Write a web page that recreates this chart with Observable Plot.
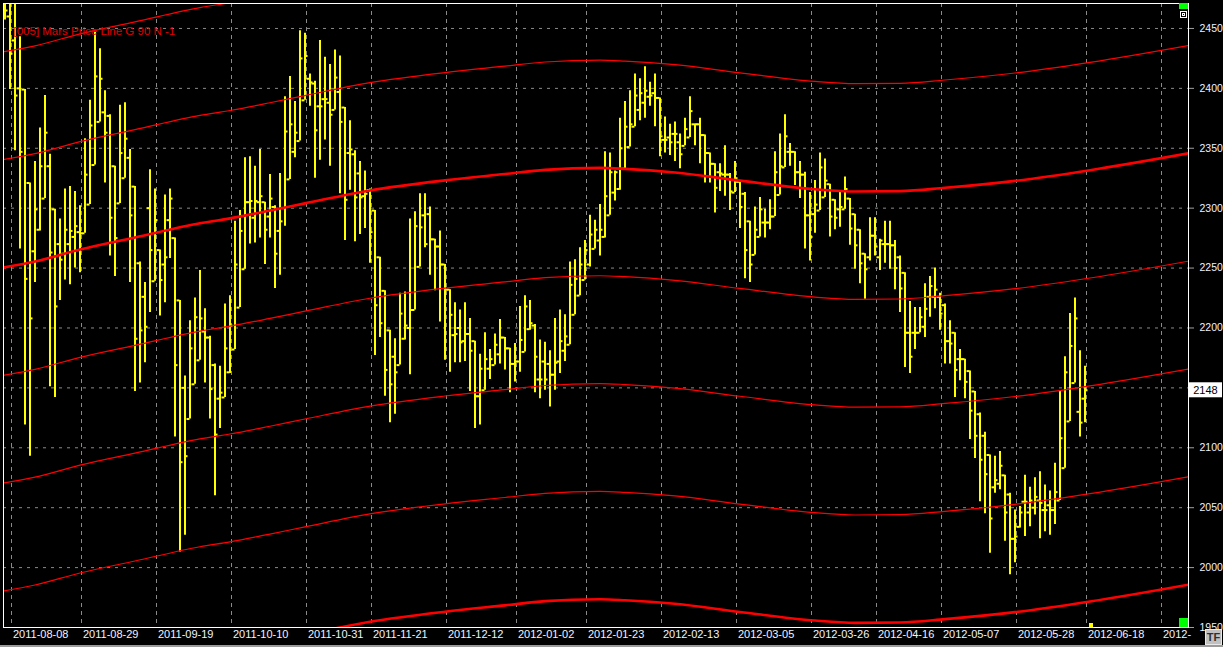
<!DOCTYPE html>
<html>
<head>
<meta charset="utf-8">
<script src="https://cdn.jsdelivr.net/npm/d3@7"></script>
<script src="https://cdn.jsdelivr.net/npm/@observablehq/plot@0.6"></script>
<style>
  html, body { margin: 0; padding: 0; background: #000; overflow: hidden; }
  #chart svg { display: block; }
</style>
</head>
<body>
<div id="chart"></div>
<script>
// ---- Data ----
const title = "[005] Mars Price Line G 90 N -1";

const open = [
2470,2460,2440,2400,2399,2321,2264,2282,2308,2335,
2299,2270,2262,2270,2276,2280,2279,2303,2336,2372,
2380,2377,2335,2304,2325,2342,2318,2254,2226,2300,
2239,2265,2253,2290,2275,2223,2150,2124,2153,2173,
2197,2192,2169,2141,2142,2163,2182,2217,2249,2305,
2292,2305,2305,2293,2301,2281,2300,2324,2347,2356,
2390,2408,2404,2385,2391,2388,2382,2397,2384,2346,
2345,2329,2310,2315,2298,2259,2231,2198,2176,2169,
2191,2200,2215,2251,2294,2295,2274,2268,2253,2232,
2194,2200,2189,2195,2189,2143,2148,2166,2169,2178,
2192,2183,2170,2172,2180,2199,2202,2157,2172,2170,
2161,2172,2181,2186,2211,2227,2240,2253,2266,2273,
2276,2294,2313,2316,2333,2351,2368,2382,2388,2393,
2396,2392,2357,2359,2362,2355,2352,2359,2370,2370,
2361,2346,2337,2330,2328,2328,2313,2322,2312,2289,
2261,2276,2288,2288,2293,2311,2334,2347,2347,2330,
2328,2294,2295,2298,2309,2320,2307,2299,2299,2308,
2295,2282,2262,2259,2277,2259,2270,2270,2269,2259,
2246,2196,2196,2196,2201,2226,2226,2226,2219,2189,
2196,2174,2174,2164,2147,2128,2110,2094,2067,2070,
2077,2061,2024,2034,2055,2046,2050,2056,2048,2052,
2048,2056,2083,2122,2154,2130,2141];

const high = [
2480,2480,2480,2443,2399,2321,2339,2367,2394,2345,
2299,2291,2316,2318,2314,2302,2358,2390,2447,2433,
2398,2378,2335,2386,2388,2349,2318,2255,2238,2332,
2316,2265,2311,2316,2275,2223,2160,2206,2225,2248,
2216,2193,2170,2168,2220,2227,2289,2298,2342,2343,
2335,2349,2305,2328,2302,2329,2393,2410,2389,2448,
2446,2412,2406,2440,2426,2420,2432,2427,2384,2373,
2348,2339,2331,2316,2298,2259,2231,2198,2191,2229,
2230,2291,2297,2312,2312,2301,2274,2281,2253,2232,
2221,2215,2221,2208,2189,2178,2196,2182,2195,2207,
2192,2183,2187,2218,2227,2223,2203,2190,2188,2181,
2208,2215,2211,2255,2257,2267,2273,2294,2290,2303,
2347,2346,2331,2375,2389,2398,2412,2408,2418,2405,
2412,2392,2376,2370,2372,2362,2375,2393,2370,2375,
2361,2346,2337,2337,2352,2329,2339,2323,2313,2289,
2301,2309,2299,2307,2347,2362,2378,2354,2347,2339,
2330,2313,2323,2346,2341,2320,2307,2314,2326,2308,
2295,2282,2262,2292,2292,2274,2289,2289,2273,2260,
2246,2222,2217,2217,2237,2243,2250,2229,2220,2206,
2196,2182,2174,2164,2147,2129,2113,2094,2093,2097,
2077,2062,2048,2051,2077,2067,2075,2080,2069,2064,
2087,2147,2176,2212,2225,2181,2168];

const low = [
2457,2399,2348,2266,2119,2093,2238,2281,2308,2151,
2142,2223,2240,2236,2250,2246,2279,2303,2336,2372,
2321,2260,2243,2304,2325,2238,2147,2154,2171,2213,
2239,2210,2221,2258,2109,2013,2027,2124,2153,2173,
2154,2124,2060,2116,2142,2162,2182,2217,2249,2270,
2271,2275,2253,2275,2233,2244,2285,2324,2342,2356,
2390,2385,2325,2340,2357,2335,2382,2312,2273,2315,
2272,2278,2283,2254,2177,2192,2143,2121,2128,2169,
2190,2161,2215,2251,2267,2244,2231,2205,2173,2163,
2171,2171,2172,2147,2116,2119,2148,2157,2169,2170,
2165,2146,2155,2163,2180,2198,2146,2141,2148,2134,
2148,2162,2172,2186,2211,2227,2240,2251,2266,2260,
2275,2294,2306,2315,2333,2351,2368,2373,2375,2385,
2368,2343,2346,2344,2339,2333,2352,2359,2352,2337,
2321,2321,2296,2314,2310,2298,2313,2283,2241,2238,
2261,2276,2275,2282,2293,2311,2334,2335,2319,2308,
2266,2256,2279,2298,2309,2276,2282,2284,2299,2269,
2249,2237,2224,2256,2260,2248,2254,2249,2232,2213,
2167,2162,2182,2196,2192,2209,2216,2198,2170,2170,
2142,2156,2141,2107,2091,2055,2045,2012,2062,2065,
2022,1994,2004,2033,2026,2034,2044,2024,2030,2027,
2036,2056,2083,2122,2154,2109,2121];

const close = [
2465,2429,2394,2347,2241,2208,2299,2335,2363,2263,
2218,2257,2282,2281,2285,2279,2328,2369,2410,2408,
2363,2292,2275,2346,2358,2294,2191,2198,2201,2265,
2290,2240,2259,2308,2169,2088,2093,2183,2209,2208,
2192,2149,2111,2146,2183,2202,2253,2281,2305,2306,
2306,2310,2282,2308,2262,2289,2364,2370,2363,2425,
2427,2405,2365,2385,2391,2378,2409,2372,2307,2349,
2309,2309,2312,2280,2219,2204,2165,2153,2163,2212,
2202,2215,2285,2284,2270,2274,2268,2253,2232,2211,
2195,2188,2195,2181,2143,2166,2174,2174,2186,2192,
2183,2170,2172,2190,2218,2204,2176,2157,2157,2161,
2171,2189,2193,2236,2241,2253,2265,2278,2282,2282,
2310,2330,2330,2350,2368,2370,2394,2396,2398,2394,
2392,2360,2357,2355,2362,2345,2366,2381,2370,2361,
2346,2337,2317,2329,2328,2314,2325,2301,2265,2253,
2282,2299,2288,2293,2330,2335,2360,2347,2330,2328,
2294,2276,2303,2334,2323,2293,2292,2301,2316,2283,
2269,2254,2249,2277,2268,2273,2270,2269,2250,2233,
2196,2176,2196,2209,2216,2235,2232,2212,2189,2187,
2165,2174,2155,2131,2110,2090,2078,2041,2073,2085,
2046,2024,2026,2046,2055,2056,2059,2054,2048,2048,
2063,2108,2163,2185,2208,2121,2148];

// Mars price line: base curve (bar index, price) and harmonic offsets (G 90)
const curveBar = [-1, 6, 15, 26, 39, 45, 53, 60, 73, 88, 100, 108, 119, 124, 134, 147, 162, 170, 179, 188, 202, 217, 237];
const curvePrice = [2250, 2255.5, 2265.5, 2275.5, 2287.4, 2291.5, 2298, 2304, 2314.8, 2323.2, 2328.5, 2332, 2333.6, 2332.8, 2329.8, 2323, 2315.8, 2313.9, 2314.2, 2317, 2322.8, 2331.7, 2346];
const harmonics = [-360, -270, -180, -90, 0, 90, 180];

// X axis tick labels (bar index of each date)
const tickLabels = ["2011-08-08","2011-08-29","2011-09-19","2011-10-10","2011-10-31","2011-11-21","2011-12-12","2012-01-02","2012-01-23","2012-02-13","2012-03-05","2012-03-26","2012-04-16","2012-05-07","2012-05-28","2012-06-18","2012-"];
const tickBars = [1, 15, 30, 45, 60, 73, 88, 102, 116, 131, 146, 161, 174, 187, 202, 216, 231];
const yTicks = [1950, 2000, 2050, 2100, 2150, 2200, 2250, 2300, 2350, 2400, 2450];

// ---- Build tables ----
const bars = open.map((o, i) => ({i, open: o, high: high[i], low: low[i], close: close[i]}));
const curve = curveBar.map((b, k) => ({i: b, v: curvePrice[k]}));
const xticks = tickBars.map((b, k) => ({bar: b, label: tickLabels[k]}));
const lastClose = close[close.length - 1];
// the last-price box hides the axis label it sits on
const yLabelTicks = yTicks.filter(t => Math.abs(t - lastClose) > 10);

const YEL = "#ffff00";
const GRID = "#8a8a8a";
const FONT = "Arial, 'Liberation Sans', sans-serif";

const marks = [
  Plot.ruleY(yTicks, {stroke: GRID, strokeDasharray: "3,5"}),
  Plot.ruleX(tickBars, {x: d => d, dx: 1.5, stroke: GRID, strokeDasharray: "4,4"}),
  Plot.ruleX(bars, {x: "i", y1: "low", y2: "high", stroke: YEL, strokeWidth: 2, clip: true}),
  Plot.ruleY(bars, {y: "open", x1: d => d.i - 0.6, x2: d => d.i, stroke: YEL, strokeWidth: 2, clip: true}),
  Plot.ruleY(bars, {y: "close", x1: d => d.i, x2: d => d.i + 0.6, stroke: YEL, strokeWidth: 2, clip: true}),
  ...harmonics.map(h => Plot.line(curve, {
    x: "i", y: d => d.v + h, stroke: "#ff0000",
    strokeWidth: h % 360 === 0 ? 2.6 : 1.2, curve: "monotone-x", clip: true
  })),
  Plot.frame({stroke: "white"}),
  Plot.axisY({anchor: "right", ticks: yTicks, tickSize: 5, tickFormat: () => "", stroke: "#a0a0a0"}),
  Plot.axisY({anchor: "right", ticks: yLabelTicks, tickSize: 0, tickPadding: 11, tickFormat: d => String(d), fill: "#eef2ff", fontSize: 10.5, textAnchor: "start"}),
  Plot.text(xticks, {x: "bar", text: "label", frameAnchor: "bottom", dy: 10, dx: 3, textAnchor: "start", fill: "#f0f4ff", fontSize: 11}),
  Plot.text([title], {frameAnchor: "top-left", dx: 10, dy: 23, text: d => d, fill: "#e00000", fontSize: 11.5, textAnchor: "start", lineAnchor: "top"})
];

const plot = Plot.plot({
  width: 1223,
  height: 647,
  marginLeft: 3,
  marginRight: 35,
  marginTop: 3,
  marginBottom: 20,
  x: {domain: [-0.3, 236.7], axis: null},
  y: {domain: [1950, 2470.83], axis: null},
  style: {background: "#000", color: "white", fontFamily: FONT, fontSize: "11px"},
  marks
});
document.getElementById("chart").appendChild(plot);

// ---- Chart chrome (last-price box, markers, buttons) ----
const svg = d3.select(plot);
const ys = plot.scale("y");
const xs = plot.scale("x");
const yy = ys.apply(lastClose);
svg.append("rect").attr("x", 1189).attr("y", yy - 7.5).attr("width", 33).attr("height", 15).attr("fill", "white");
svg.append("text").attr("x", 1205.5).attr("y", yy).attr("dy", "0.35em").attr("text-anchor", "middle").attr("fill", "black")
  .style("font-size", "11px").style("font-family", FONT).text(String(lastClose));
svg.append("rect").attr("x", 1179).attr("y", 3).attr("width", 9).attr("height", 6).attr("fill", "#00ff00");
svg.append("rect").attr("x", 1180.5).attr("y", 11.5).attr("width", 6).attr("height", 6).attr("fill", "black").attr("stroke", "white");
svg.append("rect").attr("x", 1182.5).attr("y", 13.5).attr("width", 2).attr("height", 2).attr("fill", "none").attr("stroke", "white");
svg.append("rect").attr("x", 1179).attr("y", 618).attr("width", 9).attr("height", 9).attr("fill", "#00ff00");
svg.append("rect").attr("x", Math.round(xs.apply(close.length - 1)) + 4).attr("y", 623).attr("width", 4).attr("height", 4).attr("fill", YEL);
svg.append("rect").attr("x", 0).attr("y", 645).attr("width", 1223).attr("height", 2).attr("fill", "#9a9a9a");
svg.append("rect").attr("x", 1205.5).attr("y", 629.5).attr("width", 16).attr("height", 15).attr("fill", "#c0c0c0").attr("stroke", "#e8e8e8");
svg.append("text").attr("x", 1213.5).attr("y", 637).attr("dy", "0.35em").attr("text-anchor", "middle").attr("fill", "#303030")
  .style("font-size", "11px").style("font-weight", "bold").style("font-family", FONT).text("TF");
</script>
</body>
</html>
